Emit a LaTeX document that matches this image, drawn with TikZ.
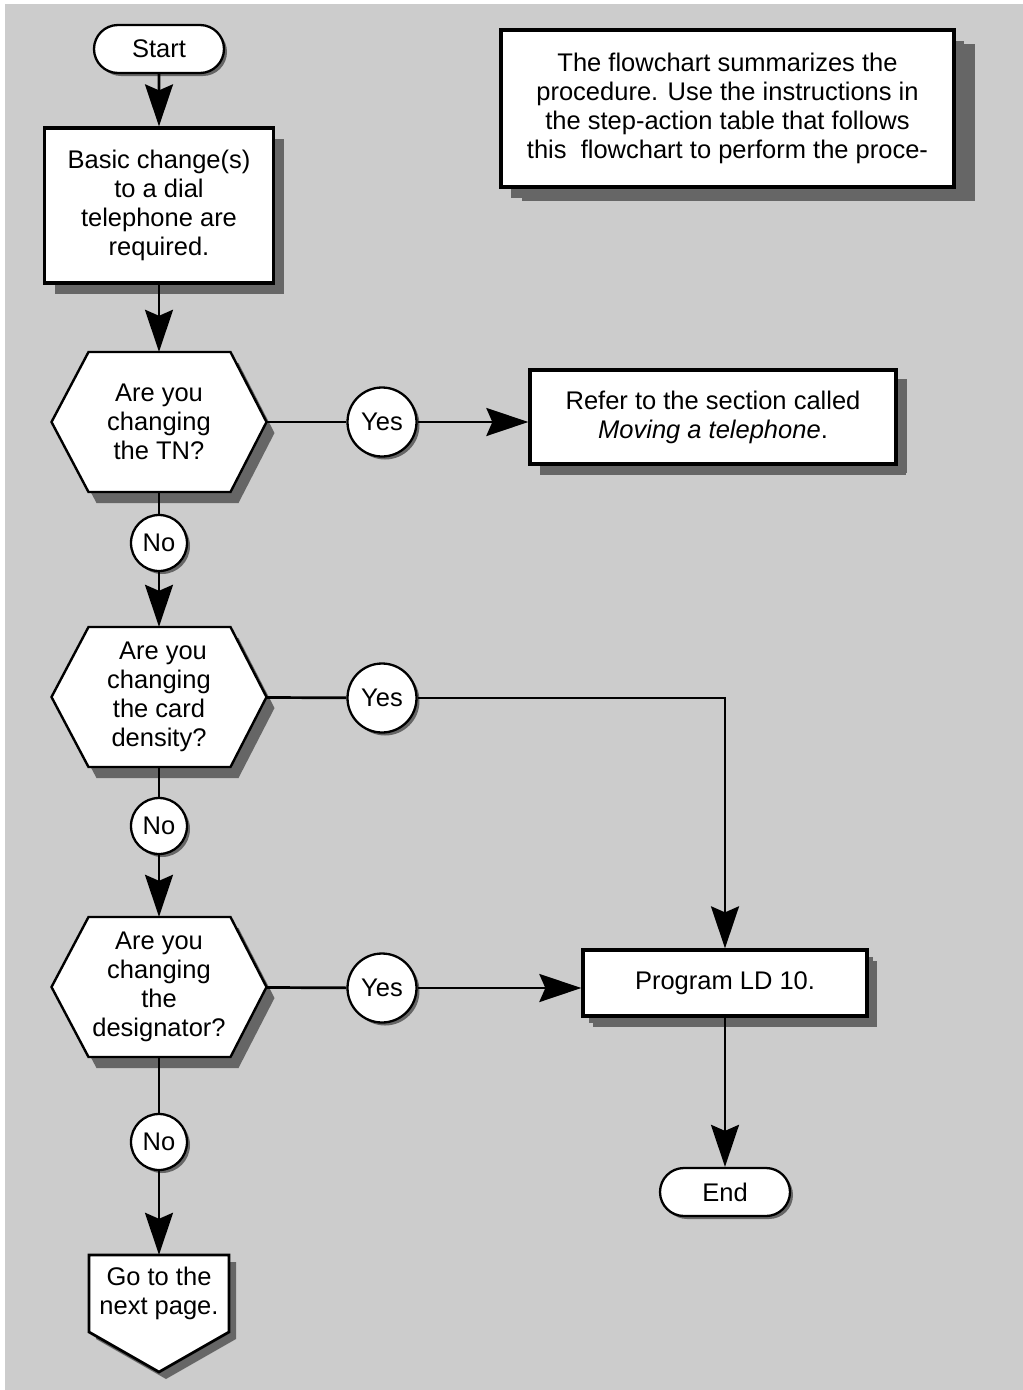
\documentclass[tikz,border=0pt]{standalone}
\usepackage{fontspec}
\setmainfont{Liberation Sans}
\usetikzlibrary{arrows.meta,shapes.misc,shadows,backgrounds}
\definecolor{bggray}{HTML}{CCCCCC}
\definecolor{shadowgray}{HTML}{666666}

\begin{document}
\begin{tikzpicture}[x=1pt,y=-1pt,
  every node/.style={font=\fontsize{25.5}{29}\selectfont,align=center,inner sep=0pt},
  flow/.style={line width=2.7pt},
  arr/.style={flow,-{Stealth[length=42pt,width=28pt,inset=6pt]}},
  boxshadow/.style={drop shadow={shadow xshift=10pt,shadow yshift=-11pt,fill=shadowgray,opacity=1}},
  smallshadow/.style={drop shadow={shadow xshift=3pt,shadow yshift=-3pt,fill=shadowgray,opacity=1}},
  stepbox/.style={draw,fill=white,line width=3.3pt,boxshadow},
  term/.style={rounded rectangle,draw,fill=white,line width=2.3pt,minimum width=130pt,minimum height=48pt,smallshadow},
  answer/.style={circle,draw,fill=white,line width=2.3pt,smallshadow},
  decide/.style={minimum width=215pt,minimum height=140pt},
]
\useasboundingbox (0,0) rectangle (1023,1390);

\node[term] (start) at (159,49) {Start};
\node[stepbox,minimum width=229pt,minimum height=155pt] (basic) at (159,205.5)
  {Basic change(s)\\to a dial\\telephone are\\required.};
\node[decide] (tn) at (159,422) {Are you\\changing\\the TN?};
\node[answer,minimum size=69pt] (yes1) at (382,422) {Yes};
\node[stepbox,minimum width=366pt,minimum height=94pt,drop shadow={shadow xshift=11pt,shadow yshift=-9pt,fill=shadowgray,opacity=1}] (refer) at (713,417)
  {Refer to the section called\\\textit{Moving a telephone}.};
\node[answer,minimum size=56pt] (no1) at (159,543) {No};
\node[decide] (card) at (159,697) {\hspace{8pt}Are you\\changing\\the card\\density?};
\node[answer,minimum size=69pt] (yes2) at (382,698) {Yes};
\node[answer,minimum size=56pt] (no2) at (159,826) {No};
\node[decide] (desig) at (159,987) {Are you\\changing\\the\\designator?};
\node[answer,minimum size=69pt] (yes3) at (382,988) {Yes};
\node[stepbox,minimum width=284pt,minimum height=66pt,drop shadow={shadow xshift=6pt,shadow yshift=-7pt,fill=shadowgray,opacity=1}] (prog) at (725,983) {Program LD 10.};
\node[term] (stop) at (725,1192) {End};
\node[answer,minimum size=56pt] (no3) at (159,1142) {No};
\node[minimum width=140pt,minimum height=77pt] (next) at (159,1293.5) {Go to the\\next page.};
\node[stepbox,minimum width=453pt,minimum height=157pt,drop shadow={shadow xshift=21pt,shadow yshift=-14pt,fill=shadowgray,opacity=1}] (note) at (727.5,108.5)
  {The flowchart summarizes the\\procedure. Use the instructions in\\the step-action table that follows\\this\ \ flowchart to perform the proce-};

\draw[arr] (start) -- (basic);
\draw[arr] (basic) -- (tn);
\draw[flow] (tn) -- (yes1);
\draw[arr] (yes1) -- (yes1 -| refer.west);
\draw[flow] (tn) -- (no1);
\draw[arr] (no1) -- (card);
\draw[flow] (card) -- (yes2);
\draw[arr] (yes2) -| (prog);
\draw[flow] (card) -- (no2);
\draw[arr] (no2) -- (desig);
\draw[flow] (desig) -- (yes3);
\draw[arr] (yes3) -- (yes3 -| prog.west);
\draw[arr] (prog) -- (stop);
\draw[flow] (desig) -- (no3);
\draw[arr] (no3) -- (next);

\begin{scope}[on background layer]
\fill[bggray] (5,4) rectangle (1023,1390);
\foreach \h in {tn,card,desig}{
  \fill[shadowgray,shift={(\h)},xshift=8pt,yshift=-11pt] (-107.5,0) -- (-70.5,-70) -- (71.5,-70) -- (107.5,0) -- (71.5,70) -- (-70.5,70) -- cycle;
  \draw[fill=white,line width=2.4pt,shift={(\h)}] (-107.5,0) -- (-70.5,-70) -- (71.5,-70) -- (107.5,0) -- (71.5,70) -- (-70.5,70) -- cycle;
}
\fill[shadowgray,shift={(next)},xshift=7pt,yshift=-7pt] (-70,-38.5) -- (70,-38.5) -- (70,38.5) -- (0,78.5) -- (-70,38.5) -- cycle;
\draw[fill=white,line width=2.7pt,shift={(next)}] (-70,-38.5) -- (70,-38.5) -- (70,38.5) -- (0,78.5) -- (-70,38.5) -- cycle;
\end{scope}
\end{tikzpicture}
\end{document}
